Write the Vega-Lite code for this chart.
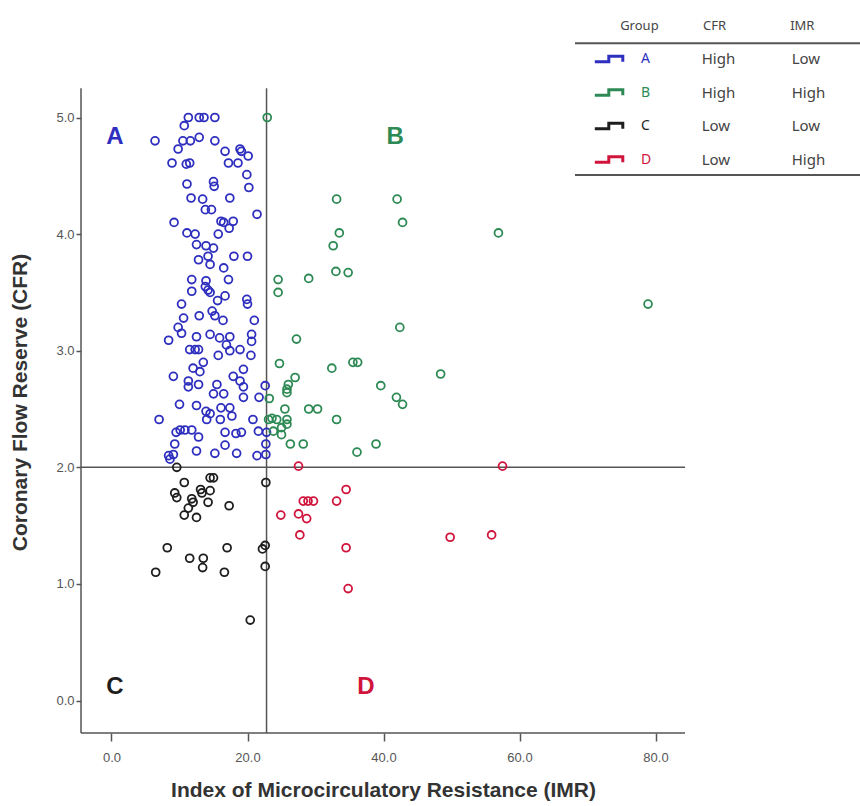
{
  "$schema": "https://vega.github.io/schema/vega-lite/v6.json",
  "width": 779,
  "height": 728,
  "autosize": {"type": "none"},
  "padding": {"left": 81, "top": 5, "right": 0, "bottom": 73},
  "background": "white",
  "config": {"view": {"stroke": null}, "font": "Liberation Sans"},
  "datasets": {
    "points": [
      {"group":"A","imr":11.3,"cfr":5.0},{"group":"A","imr":12.9,"cfr":5.0},{"group":"A","imr":13.6,"cfr":5.0},{"group":"A","imr":15.2,"cfr":5.0},
      {"group":"A","imr":10.7,"cfr":4.93},{"group":"A","imr":6.4,"cfr":4.80},{"group":"A","imr":10.5,"cfr":4.80},{"group":"A","imr":11.6,"cfr":4.80},
      {"group":"A","imr":12.9,"cfr":4.83},{"group":"A","imr":15.2,"cfr":4.80},{"group":"A","imr":9.8,"cfr":4.73},{"group":"A","imr":16.7,"cfr":4.71},
      {"group":"A","imr":18.9,"cfr":4.73},{"group":"A","imr":19.1,"cfr":4.71},{"group":"A","imr":20.1,"cfr":4.67},{"group":"A","imr":8.9,"cfr":4.61},
      {"group":"A","imr":11.0,"cfr":4.60},{"group":"A","imr":11.5,"cfr":4.61},{"group":"A","imr":17.2,"cfr":4.61},{"group":"A","imr":18.6,"cfr":4.61},
      {"group":"A","imr":19.9,"cfr":4.51},{"group":"A","imr":11.1,"cfr":4.43},{"group":"A","imr":15.0,"cfr":4.45},{"group":"A","imr":15.1,"cfr":4.41},
      {"group":"A","imr":20.2,"cfr":4.40},{"group":"A","imr":11.7,"cfr":4.31},{"group":"A","imr":13.4,"cfr":4.30},{"group":"A","imr":17.4,"cfr":4.31},
      {"group":"A","imr":13.8,"cfr":4.21},{"group":"A","imr":14.7,"cfr":4.21},{"group":"A","imr":21.4,"cfr":4.17},{"group":"A","imr":9.2,"cfr":4.10},
      {"group":"A","imr":16.1,"cfr":4.11},{"group":"A","imr":16.5,"cfr":4.10},{"group":"A","imr":17.9,"cfr":4.11},{"group":"A","imr":17.3,"cfr":4.05},
      {"group":"A","imr":11.1,"cfr":4.01},{"group":"A","imr":12.3,"cfr":4.00},{"group":"A","imr":15.7,"cfr":4.00},{"group":"A","imr":12.5,"cfr":3.91},
      {"group":"A","imr":13.9,"cfr":3.90},{"group":"A","imr":15.0,"cfr":3.88},{"group":"A","imr":12.8,"cfr":3.78},{"group":"A","imr":14.2,"cfr":3.81},
      {"group":"A","imr":14.5,"cfr":3.74},{"group":"A","imr":16.5,"cfr":3.71},{"group":"A","imr":18.0,"cfr":3.81},{"group":"A","imr":20.0,"cfr":3.81},
      {"group":"A","imr":11.8,"cfr":3.61},{"group":"A","imr":13.9,"cfr":3.60},{"group":"A","imr":17.2,"cfr":3.61},{"group":"A","imr":13.8,"cfr":3.55},
      {"group":"A","imr":11.8,"cfr":3.51},{"group":"A","imr":14.2,"cfr":3.52},{"group":"A","imr":14.5,"cfr":3.50},{"group":"A","imr":16.7,"cfr":3.47},
      {"group":"A","imr":10.3,"cfr":3.40},{"group":"A","imr":15.6,"cfr":3.43},{"group":"A","imr":19.9,"cfr":3.44},{"group":"A","imr":20.0,"cfr":3.40},
      {"group":"A","imr":12.9,"cfr":3.30},{"group":"A","imr":14.8,"cfr":3.34},{"group":"A","imr":15.2,"cfr":3.30},{"group":"A","imr":10.6,"cfr":3.28},
      {"group":"A","imr":16.4,"cfr":3.26},{"group":"A","imr":21.0,"cfr":3.26},{"group":"A","imr":9.8,"cfr":3.20},{"group":"A","imr":10.3,"cfr":3.15},
      {"group":"A","imr":14.5,"cfr":3.14},{"group":"A","imr":12.5,"cfr":3.12},{"group":"A","imr":15.9,"cfr":3.11},{"group":"A","imr":17.4,"cfr":3.12},
      {"group":"A","imr":20.6,"cfr":3.14},{"group":"A","imr":8.4,"cfr":3.09},{"group":"A","imr":16.9,"cfr":3.05},{"group":"A","imr":20.6,"cfr":3.08},
      {"group":"A","imr":11.5,"cfr":3.01},{"group":"A","imr":12.3,"cfr":3.01},{"group":"A","imr":12.8,"cfr":3.01},{"group":"A","imr":17.4,"cfr":3.00},
      {"group":"A","imr":18.9,"cfr":3.01},{"group":"A","imr":15.7,"cfr":2.96},{"group":"A","imr":20.5,"cfr":2.96},{"group":"A","imr":13.5,"cfr":2.90},
      {"group":"A","imr":12.0,"cfr":2.85},{"group":"A","imr":19.4,"cfr":2.84},{"group":"A","imr":13.0,"cfr":2.82},{"group":"A","imr":9.1,"cfr":2.78},
      {"group":"A","imr":17.9,"cfr":2.78},{"group":"A","imr":11.3,"cfr":2.74},{"group":"A","imr":12.8,"cfr":2.71},{"group":"A","imr":15.5,"cfr":2.71},
      {"group":"A","imr":18.9,"cfr":2.74},{"group":"A","imr":19.4,"cfr":2.69},{"group":"A","imr":22.6,"cfr":2.70},{"group":"A","imr":11.3,"cfr":2.69},
      {"group":"A","imr":15.0,"cfr":2.63},{"group":"A","imr":16.5,"cfr":2.63},{"group":"A","imr":19.4,"cfr":2.60},{"group":"A","imr":21.7,"cfr":2.60},
      {"group":"A","imr":10.0,"cfr":2.54},{"group":"A","imr":12.5,"cfr":2.53},{"group":"A","imr":13.9,"cfr":2.48},{"group":"A","imr":14.5,"cfr":2.46},
      {"group":"A","imr":16.1,"cfr":2.51},{"group":"A","imr":17.4,"cfr":2.51},{"group":"A","imr":7.0,"cfr":2.41},{"group":"A","imr":14.0,"cfr":2.41},
      {"group":"A","imr":16.0,"cfr":2.41},{"group":"A","imr":17.7,"cfr":2.44},{"group":"A","imr":20.8,"cfr":2.41},{"group":"A","imr":10.1,"cfr":2.32},
      {"group":"A","imr":10.8,"cfr":2.32},{"group":"A","imr":11.8,"cfr":2.32},{"group":"A","imr":9.5,"cfr":2.30},{"group":"A","imr":12.8,"cfr":2.26},
      {"group":"A","imr":16.7,"cfr":2.30},{"group":"A","imr":18.3,"cfr":2.29},{"group":"A","imr":19.1,"cfr":2.30},{"group":"A","imr":21.6,"cfr":2.31},
      {"group":"A","imr":22.8,"cfr":2.30},{"group":"A","imr":9.3,"cfr":2.20},{"group":"A","imr":16.7,"cfr":2.19},{"group":"A","imr":22.7,"cfr":2.20},
      {"group":"A","imr":12.5,"cfr":2.14},{"group":"A","imr":15.2,"cfr":2.12},{"group":"A","imr":18.4,"cfr":2.12},{"group":"A","imr":21.4,"cfr":2.10},
      {"group":"A","imr":22.7,"cfr":2.11},{"group":"A","imr":8.4,"cfr":2.10},{"group":"A","imr":9.1,"cfr":2.11},{"group":"A","imr":8.6,"cfr":2.07},
      {"group":"B","imr":22.9,"cfr":5.0},{"group":"B","imr":33.1,"cfr":4.30},{"group":"B","imr":42.0,"cfr":4.30},{"group":"B","imr":42.8,"cfr":4.10},
      {"group":"B","imr":56.9,"cfr":4.01},{"group":"B","imr":33.5,"cfr":4.01},{"group":"B","imr":32.6,"cfr":3.90},{"group":"B","imr":33.0,"cfr":3.68},
      {"group":"B","imr":34.8,"cfr":3.67},{"group":"B","imr":24.5,"cfr":3.61},{"group":"B","imr":29.0,"cfr":3.62},{"group":"B","imr":24.5,"cfr":3.50},
      {"group":"B","imr":78.9,"cfr":3.40},{"group":"B","imr":42.4,"cfr":3.20},{"group":"B","imr":27.2,"cfr":3.10},{"group":"B","imr":24.7,"cfr":2.89},
      {"group":"B","imr":32.4,"cfr":2.85},{"group":"B","imr":35.5,"cfr":2.90},{"group":"B","imr":36.2,"cfr":2.90},{"group":"B","imr":48.4,"cfr":2.80},
      {"group":"B","imr":27.0,"cfr":2.77},{"group":"B","imr":26.0,"cfr":2.71},{"group":"B","imr":25.8,"cfr":2.64},{"group":"B","imr":25.8,"cfr":2.67},
      {"group":"B","imr":39.6,"cfr":2.70},{"group":"B","imr":41.9,"cfr":2.60},{"group":"B","imr":42.8,"cfr":2.54},{"group":"B","imr":23.2,"cfr":2.59},
      {"group":"B","imr":25.5,"cfr":2.50},{"group":"B","imr":29.0,"cfr":2.50},{"group":"B","imr":30.3,"cfr":2.50},{"group":"B","imr":23.1,"cfr":2.41},
      {"group":"B","imr":24.3,"cfr":2.41},{"group":"B","imr":25.8,"cfr":2.41},{"group":"B","imr":23.6,"cfr":2.42},{"group":"B","imr":33.1,"cfr":2.41},
      {"group":"B","imr":23.8,"cfr":2.31},{"group":"B","imr":25.0,"cfr":2.34},{"group":"B","imr":25.8,"cfr":2.37},{"group":"B","imr":25.0,"cfr":2.28},
      {"group":"B","imr":26.3,"cfr":2.20},{"group":"B","imr":28.2,"cfr":2.20},{"group":"B","imr":36.1,"cfr":2.13},{"group":"B","imr":38.9,"cfr":2.20},
      {"group":"C","imr":9.6,"cfr":2.00},{"group":"C","imr":10.7,"cfr":1.87},{"group":"C","imr":14.5,"cfr":1.91},{"group":"C","imr":15.0,"cfr":1.91},
      {"group":"C","imr":9.3,"cfr":1.78},{"group":"C","imr":9.6,"cfr":1.74},{"group":"C","imr":11.8,"cfr":1.73},{"group":"C","imr":12.0,"cfr":1.70},
      {"group":"C","imr":13.1,"cfr":1.81},{"group":"C","imr":13.3,"cfr":1.78},{"group":"C","imr":14.5,"cfr":1.80},{"group":"C","imr":14.2,"cfr":1.70},
      {"group":"C","imr":17.3,"cfr":1.67},{"group":"C","imr":11.3,"cfr":1.65},{"group":"C","imr":10.7,"cfr":1.59},{"group":"C","imr":12.5,"cfr":1.57},
      {"group":"C","imr":22.7,"cfr":1.87},{"group":"C","imr":8.2,"cfr":1.31},{"group":"C","imr":11.5,"cfr":1.22},{"group":"C","imr":13.5,"cfr":1.22},
      {"group":"C","imr":13.4,"cfr":1.14},{"group":"C","imr":17.0,"cfr":1.31},{"group":"C","imr":6.5,"cfr":1.10},{"group":"C","imr":16.6,"cfr":1.10},
      {"group":"C","imr":22.6,"cfr":1.33},{"group":"C","imr":22.2,"cfr":1.30},{"group":"C","imr":22.6,"cfr":1.15},{"group":"C","imr":20.4,"cfr":0.69},
      {"group":"D","imr":27.5,"cfr":2.01},{"group":"D","imr":57.5,"cfr":2.01},{"group":"D","imr":34.5,"cfr":1.81},{"group":"D","imr":28.2,"cfr":1.71},
      {"group":"D","imr":28.9,"cfr":1.71},{"group":"D","imr":29.7,"cfr":1.71},{"group":"D","imr":33.1,"cfr":1.71},{"group":"D","imr":24.9,"cfr":1.59},
      {"group":"D","imr":27.5,"cfr":1.60},{"group":"D","imr":28.7,"cfr":1.56},{"group":"D","imr":27.7,"cfr":1.42},{"group":"D","imr":49.8,"cfr":1.40},
      {"group":"D","imr":55.9,"cfr":1.42},{"group":"D","imr":34.5,"cfr":1.31},{"group":"D","imr":34.8,"cfr":0.96}
    ],
    "quad": [
      {"group":"A","imr":0.5,"cfr":4.83},
      {"group":"B","imr":41.7,"cfr":4.83},
      {"group":"C","imr":0.5,"cfr":0.12},
      {"group":"D","imr":37.4,"cfr":0.12}
    ],
    "table": [
      {"row":"hdr","group":"Group","cfr":"CFR","imr":"IMR"},
      {"row":"A","group":"A","cfr":"High","imr":"Low"},
      {"row":"B","group":"B","cfr":"High","imr":"High"},
      {"row":"C","group":"C","cfr":"Low","imr":"Low"},
      {"row":"D","group":"D","cfr":"Low","imr":"High"}
    ]
  },
  "layer": [
    {
      "layer": [
        {
          "data": {"values": [{}]},
          "mark": {"type": "rule", "color": "#555555", "strokeWidth": 1.5},
          "encoding": {"x": {"datum": -4.485, "type": "quantitative"}, "y": {"datum": -0.2787, "type": "quantitative"}, "y2": {"datum": 5.25}}
        },
        {
          "data": {"values": [{}]},
          "mark": {"type": "rule", "color": "#555555", "strokeWidth": 1.5},
          "encoding": {"y": {"datum": -0.2787, "type": "quantitative"}, "x": {"datum": -4.485, "type": "quantitative"}, "x2": {"datum": 84.34}}
        },
        {
          "data": {"values": [{}]},
          "mark": {"type": "rule", "color": "#555555", "strokeWidth": 1.5},
          "encoding": {"x": {"datum": 22.8, "type": "quantitative"}, "y": {"datum": -0.2787, "type": "quantitative"}, "y2": {"datum": 5.25}}
        },
        {
          "data": {"values": [{}]},
          "mark": {"type": "rule", "color": "#555555", "strokeWidth": 1.5},
          "encoding": {"y": {"datum": 2.0, "type": "quantitative"}, "x": {"datum": -4.485, "type": "quantitative"}, "x2": {"datum": 84.34}}
        },
        {
          "data": {"values": [{}]},
          "mark": {"type": "rule", "color": "#555555", "strokeWidth": 2},
          "encoding": {"y": {"datum": 5.636, "type": "quantitative"}, "x": {"datum": 68.16, "type": "quantitative"}, "x2": {"datum": 110.07}}
        },
        {
          "data": {"values": [{}]},
          "mark": {"type": "rule", "color": "#555555", "strokeWidth": 2},
          "encoding": {"y": {"datum": 4.507, "type": "quantitative"}, "x": {"datum": 68.16, "type": "quantitative"}, "x2": {"datum": 110.07}}
        },
        {
          "data": {"name": "points"},
          "mark": {"type": "point", "filled": false, "size": 62, "strokeWidth": 1.8, "opacity": 1},
          "encoding": {
            "x": {
              "field": "imr", "type": "quantitative",
              "scale": {"domain": [-4.485, 110.07], "nice": false, "zero": false},
              "axis": {
                "values": [0, 20, 40, 60, 80], "format": ".1f", "domain": false, "grid": false,
                "tickSize": 8, "tickColor": "#555555", "tickWidth": 1.5,
                "labelFont": "Liberation Sans", "labelFontSize": 13, "labelColor": "#555555", "labelPadding": 10,
                "title": "Index of Microcirculatory Resistance (IMR)",
                "titleFont": "Liberation Sans", "titleFontSize": 21, "titleFontWeight": "bold", "titleColor": "#333333",
                "titleX": 302, "titleY": 57, "titleAlign": "center", "titleBaseline": "middle"
              }
            },
            "y": {
              "field": "cfr", "type": "quantitative",
              "scale": {"domain": [-0.2787, 5.965], "nice": false, "zero": false},
              "axis": {
                "values": [0, 1, 2, 3, 4, 5], "format": ".1f", "domain": false, "grid": false,
                "tickSize": 5, "tickColor": "#555555", "tickWidth": 1.5,
                "labelFont": "Liberation Sans", "labelFontSize": 13, "labelColor": "#555555", "labelPadding": 2,
                "title": "Coronary Flow Reserve (CFR)",
                "titleFont": "Liberation Sans", "titleFontSize": 21, "titleFontWeight": "bold", "titleColor": "#333333",
                "titleX": -61, "titleY": 397, "titleAlign": "center", "titleBaseline": "middle", "titleAngle": -90
              }
            },
            "color": {
              "field": "group", "type": "nominal",
              "scale": {"domain": ["A", "B", "C", "D"], "range": ["#2f2fbf", "#2e8a55", "#1e1e1e", "#d0143c"]},
              "legend": null
            }
          }
        },
        {
          "data": {"name": "quad"},
          "mark": {"type": "text", "fontSize": 24, "fontWeight": "bold", "font": "Liberation Sans", "align": "center", "baseline": "middle"},
          "encoding": {
            "x": {"field": "imr", "type": "quantitative"},
            "y": {"field": "cfr", "type": "quantitative"},
            "text": {"field": "group"},
            "color": {"field": "group", "type": "nominal", "legend": null}
          }
        }
      ]
    },
    {
      "data": {"name": "table"},
      "encoding": {
        "y": {"field": "row", "type": "nominal", "axis": null,
              "scale": {"type": "point", "domain": ["hdr", "A", "B", "C", "D", "r5", "r6", "r7", "r8", "r9", "r10", "r11", "r12", "r13", "r14", "r15", "r16", "r17", "r18", "r19", "r20"], "padding": 0.866, "align": 0.3534}}
      },
      "layer": [
        {
          "transform": [{"filter": "datum.row !== 'hdr'"}],
          "mark": {"type": "point", "filled": false, "shape": "M -1 0.2 L 0 0.2 L 0 -0.2 L 1 -0.2 L 1 0.2", "size": 784, "strokeWidth": 3, "opacity": 1, "strokeCap": "butt"},
          "encoding": {
            "x": {"datum": 73.13, "type": "quantitative"},
            "color": {"field": "group", "type": "nominal", "legend": null}
          }
        },
        {
          "transform": [{"filter": "datum.row !== 'hdr'"}],
          "mark": {"type": "text", "font": "Noto Sans", "fontSize": 14, "align": "left", "baseline": "middle"},
          "encoding": {
            "x": {"datum": 77.87, "type": "quantitative"},
            "text": {"field": "group"},
            "color": {"field": "group", "type": "nominal", "legend": null}
          }
        },
        {
          "transform": [{"filter": "datum.row !== 'hdr'"}],
          "mark": {"type": "text", "font": "Noto Sans", "fontSize": 15, "align": "left", "baseline": "middle", "color": "#444444"},
          "encoding": {
            "x": {"datum": 86.79, "type": "quantitative"},
            "text": {"field": "cfr"}
          }
        },
        {
          "transform": [{"filter": "datum.row !== 'hdr'"}],
          "mark": {"type": "text", "font": "Noto Sans", "fontSize": 15, "align": "left", "baseline": "middle", "color": "#444444"},
          "encoding": {
            "x": {"datum": 100.03, "type": "quantitative"},
            "text": {"field": "imr"}
          }
        },
        {
          "transform": [{"filter": "datum.row === 'hdr'"}],
          "mark": {"type": "text", "font": "Noto Sans", "fontSize": 13, "align": "left", "baseline": "middle", "color": "#444444"},
          "encoding": {
            "x": {"datum": 74.8, "type": "quantitative"},
            "text": {"field": "group"}
          }
        },
        {
          "transform": [{"filter": "datum.row === 'hdr'"}],
          "mark": {"type": "text", "font": "Noto Sans", "fontSize": 13, "align": "left", "baseline": "middle", "color": "#444444"},
          "encoding": {
            "x": {"datum": 87.0, "type": "quantitative"},
            "text": {"field": "cfr"}
          }
        },
        {
          "transform": [{"filter": "datum.row === 'hdr'"}],
          "mark": {"type": "text", "font": "Noto Sans", "fontSize": 13, "align": "left", "baseline": "middle", "color": "#444444"},
          "encoding": {
            "x": {"datum": 99.8, "type": "quantitative"},
            "text": {"field": "imr"}
          }
        }
      ]
    }
  ],
  "resolve": {"scale": {"y": "independent"}}
}
